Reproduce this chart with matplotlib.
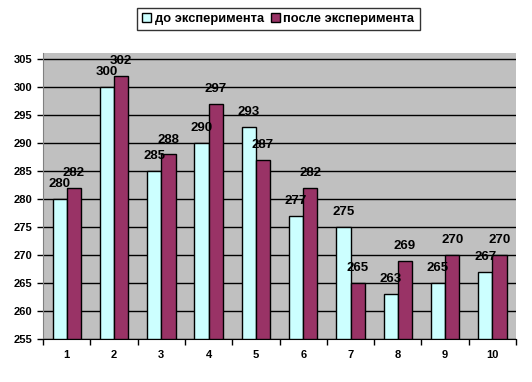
import numpy as np
import matplotlib.pyplot as plt

categories = ["1", "2", "3", "4", "5", "6", "7", "8", "9", "10"]
before = [280, 300, 285, 290, 293, 277, 275, 263, 265, 267]
after = [282, 302, 288, 297, 287, 282, 265, 269, 270, 270]

plt.rcParams['font.family'] = ['Liberation Sans', 'DejaVu Sans']
plt.rcParams['font.weight'] = 'bold'

fig = plt.figure(figsize=(5.32, 3.82), dpi=100)
ax = fig.add_axes([0.081, 0.1126, 0.889, 0.748])
ax.set_facecolor("#C0C0C0")

x = np.arange(len(categories))
w = 0.3
ax.bar(x - w / 2, [v - 255 for v in before], w, bottom=255, color="#CCFFFF",
       edgecolor="black", linewidth=1, label="до эксперимента", zorder=3)
ax.bar(x + w / 2, [v - 255 for v in after], w, bottom=255, color="#993366",
       edgecolor="black", linewidth=1, label="после эксперимента", zorder=3)

# value labels above each bar
for xi, v in zip(x - w / 2, before):
    ax.text(xi, v + 1.6, str(v), ha="center", va="bottom", fontsize=9.5, fontweight="bold", zorder=4)
for xi, v in zip(x + w / 2, after):
    ax.text(xi, v + 1.6, str(v), ha="center", va="bottom", fontsize=9.5, fontweight="bold", zorder=4)

ax.set_xlim(-0.5, len(categories) - 0.5)
ax.set_ylim(255, 306.1)
ax.set_yticks(range(255, 306, 5))
ax.yaxis.grid(True, color="black", linewidth=1, zorder=1)
ax.set_xticks(x)
ax.set_xticklabels(categories, fontsize=8, fontweight="bold")
ax.set_xticks(np.arange(-0.5, len(categories), 1), minor=True)
ax.tick_params(axis="x", which="major", length=0, pad=8)
ax.tick_params(axis="x", which="minor", length=4, direction="out", width=1)
ax.tick_params(axis="y", labelsize=8, length=4, width=1, pad=4)
for lbl in ax.get_yticklabels():
    lbl.set_fontweight("bold")

for side in ["top", "right"]:
    ax.spines[side].set_visible(False)
ax.spines["left"].set_color("#808080")
ax.spines["bottom"].set_color("black")

leg = fig.legend(loc="center", bbox_to_anchor=(0.523, 0.95), ncol=2, fontsize=9.3,
                 frameon=True, fancybox=False, edgecolor="black", handlelength=0.7,
                 handleheight=0.7, handletextpad=0.3, columnspacing=0.5,
                 borderpad=0.4)
leg.get_frame().set_linewidth(1)
for t in leg.get_texts():
    t.set_fontweight("bold")

fig.savefig("out.png", dpi=100)
